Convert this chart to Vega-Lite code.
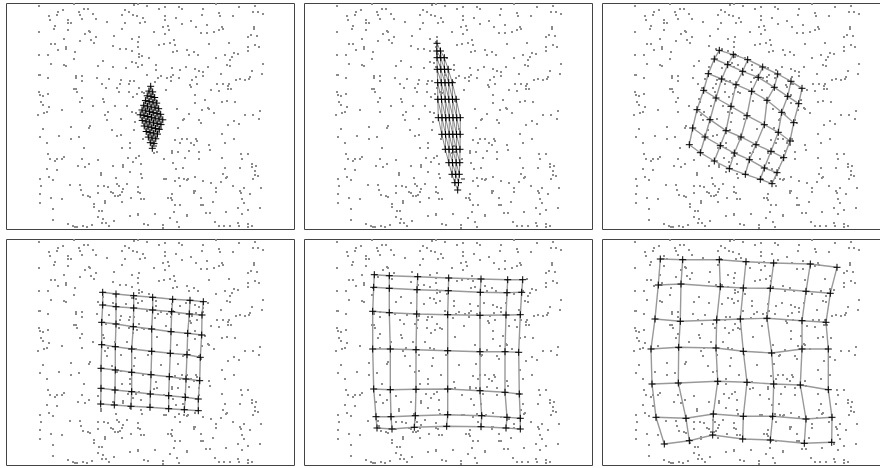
{
"$schema":"https://vega.github.io/schema/vega-lite/v6.json",
"padding":{"left":5,"top":2,"right":0,"bottom":0},
"bounds":"flush",
"config":{"view":{"stroke":"#444","strokeWidth":1}},
"resolve":{"scale":{"x":"independent","y":"independent"}},
"datasets":{
"dots":[
{"x":38,"y":5},{"x":73,"y":3},{"x":83,"y":8},{"x":87,"y":8},{"x":57,"y":11},{"x":62,"y":9},{"x":78,"y":11},{"x":79,"y":14},{"x":92,"y":13},{"x":48,"y":15},{"x":56,"y":14},{"x":49,"y":19},{"x":67,"y":19},{"x":67,"y":22},{"x":70,"y":22},{"x":81,"y":18},{"x":95,"y":18},{"x":106,"y":21},{"x":121,"y":14},{"x":124,"y":9},{"x":128,"y":11},{"x":132,"y":14},{"x":136,"y":15},{"x":133,"y":4},{"x":137,"y":3},{"x":146,"y":5},{"x":142,"y":17},{"x":139,"y":22},{"x":144,"y":21},{"x":124,"y":22},{"x":54,"y":25},{"x":53,"y":28},{"x":67,"y":29},{"x":38,"y":31},{"x":88,"y":30},{"x":89,"y":31},{"x":84,"y":33},{"x":121,"y":28},{"x":113,"y":35},{"x":95,"y":36},{"x":90,"y":39},{"x":63,"y":38},{"x":79,"y":40},{"x":93,"y":42},{"x":50,"y":43},{"x":54,"y":43},{"x":131,"y":38},{"x":138,"y":36},{"x":137,"y":41},{"x":137,"y":46},{"x":112,"y":45},{"x":119,"y":48},{"x":125,"y":48},{"x":131,"y":50},{"x":65,"y":46},{"x":65,"y":48},{"x":57,"y":49},{"x":74,"y":51},{"x":38,"y":54},{"x":47,"y":54},{"x":138,"y":53},{"x":138,"y":56},{"x":141,"y":55},{"x":148,"y":57},{"x":73,"y":58},{"x":102,"y":60},{"x":131,"y":61},{"x":135,"y":62},{"x":50,"y":63},{"x":63,"y":64},{"x":65,"y":65},{"x":97,"y":65},{"x":112,"y":66},{"x":125,"y":67},{"x":137,"y":66},{"x":141,"y":64},{"x":38,"y":74},{"x":39,"y":74},{"x":47,"y":77},{"x":75,"y":75},{"x":75,"y":77},{"x":81,"y":75},{"x":81,"y":80},{"x":96,"y":77},{"x":108,"y":78},{"x":120,"y":79},{"x":119,"y":83},{"x":129,"y":80},{"x":133,"y":80},{"x":128,"y":83},{"x":146,"y":74},{"x":101,"y":83},{"x":105,"y":87},{"x":116,"y":87},{"x":73,"y":88},{"x":75,"y":88},{"x":76,"y":91},{"x":38,"y":91},{"x":39,"y":94},{"x":42,"y":95},{"x":47,"y":93},{"x":118,"y":91},{"x":128,"y":91},{"x":136,"y":93},{"x":141,"y":91},{"x":138,"y":87},{"x":81,"y":97},{"x":132,"y":96},{"x":102,"y":98},{"x":103,"y":101},{"x":40,"y":101},{"x":42,"y":104},{"x":79,"y":101},{"x":48,"y":106},{"x":61,"y":109},{"x":92,"y":105},{"x":114,"y":105},{"x":126,"y":105},{"x":43,"y":112},{"x":46,"y":111},{"x":81,"y":111},{"x":107,"y":111},{"x":104,"y":114},{"x":37,"y":114},{"x":131,"y":111},{"x":135,"y":112},
{"x":158,"y":8},{"x":164,"y":6},{"x":178,"y":6},{"x":181,"y":8},{"x":202,"y":8},{"x":215,"y":3},{"x":218,"y":12},{"x":219,"y":15},{"x":238,"y":6},{"x":254,"y":5},{"x":252,"y":11},{"x":257,"y":11},{"x":262,"y":13},{"x":164,"y":15},{"x":164,"y":19},{"x":175,"y":17},{"x":190,"y":20},{"x":201,"y":14},{"x":232,"y":15},{"x":162,"y":26},{"x":167,"y":25},{"x":168,"y":29},{"x":181,"y":23},{"x":195,"y":26},{"x":206,"y":24},{"x":153,"y":31},{"x":164,"y":33},{"x":200,"y":32},{"x":206,"y":32},{"x":213,"y":31},{"x":218,"y":29},{"x":221,"y":26},{"x":222,"y":28},{"x":253,"y":26},{"x":253,"y":28},{"x":247,"y":36},{"x":250,"y":34},{"x":256,"y":35},{"x":158,"y":44},{"x":163,"y":43},{"x":169,"y":42},{"x":173,"y":39},{"x":174,"y":44},{"x":208,"y":43},{"x":228,"y":42},{"x":247,"y":46},{"x":247,"y":50},{"x":254,"y":44},{"x":258,"y":46},{"x":172,"y":51},{"x":176,"y":50},{"x":186,"y":49},{"x":193,"y":51},{"x":188,"y":54},{"x":197,"y":54},{"x":215,"y":57},{"x":224,"y":54},{"x":233,"y":52},{"x":237,"y":53},{"x":231,"y":56},{"x":229,"y":59},{"x":226,"y":64},{"x":229,"y":65},{"x":155,"y":64},{"x":155,"y":69},{"x":171,"y":67},{"x":179,"y":69},{"x":185,"y":66},{"x":194,"y":68},{"x":198,"y":70},{"x":207,"y":66},{"x":202,"y":71},{"x":202,"y":75},{"x":220,"y":73},{"x":251,"y":70},{"x":262,"y":63},{"x":261,"y":73},{"x":157,"y":77},{"x":160,"y":75},{"x":166,"y":77},{"x":170,"y":76},{"x":172,"y":74},{"x":178,"y":77},{"x":191,"y":79},{"x":189,"y":84},{"x":190,"y":86},{"x":195,"y":76},{"x":196,"y":83},{"x":154,"y":81},{"x":170,"y":80},{"x":235,"y":79},{"x":239,"y":78},{"x":244,"y":79},{"x":248,"y":78},{"x":249,"y":76},{"x":216,"y":83},{"x":222,"y":83},{"x":228,"y":83},{"x":227,"y":88},{"x":230,"y":88},{"x":227,"y":85},{"x":210,"y":89},{"x":218,"y":90},{"x":165,"y":89},{"x":194,"y":94},{"x":194,"y":102},{"x":204,"y":99},{"x":221,"y":101},{"x":226,"y":100},{"x":234,"y":101},{"x":207,"y":107},{"x":208,"y":108},{"x":201,"y":109},{"x":176,"y":108},{"x":188,"y":113},{"x":213,"y":112},{"x":244,"y":114},{"x":252,"y":114},{"x":259,"y":110},
{"x":106,"y":119},{"x":120,"y":118},{"x":134,"y":121},{"x":42,"y":128},{"x":70,"y":126},{"x":88,"y":127},{"x":89,"y":125},{"x":111,"y":129},{"x":133,"y":129},{"x":39,"y":136},{"x":58,"y":135},{"x":70,"y":138},{"x":78,"y":136},{"x":116,"y":135},{"x":120,"y":134},{"x":46,"y":142},{"x":129,"y":142},{"x":83,"y":147},{"x":121,"y":147},{"x":129,"y":147},{"x":47,"y":153},{"x":49,"y":158},{"x":54,"y":160},{"x":56,"y":158},{"x":61,"y":158},{"x":63,"y":156},{"x":81,"y":158},{"x":97,"y":159},{"x":127,"y":157},{"x":135,"y":157},{"x":138,"y":155},{"x":132,"y":161},{"x":140,"y":163},{"x":77,"y":165},{"x":84,"y":166},{"x":88,"y":163},{"x":122,"y":164},{"x":122,"y":166},{"x":112,"y":165},{"x":46,"y":168},{"x":56,"y":169},{"x":100,"y":172},{"x":100,"y":174},{"x":129,"y":171},{"x":140,"y":173},{"x":141,"y":177},{"x":48,"y":176},{"x":52,"y":179},{"x":39,"y":178},{"x":115,"y":177},{"x":40,"y":185},{"x":69,"y":184},{"x":79,"y":184},{"x":97,"y":185},{"x":103,"y":185},{"x":107,"y":186},{"x":116,"y":183},{"x":118,"y":185},{"x":122,"y":188},{"x":121,"y":191},{"x":119,"y":194},{"x":117,"y":195},{"x":126,"y":183},{"x":137,"y":186},{"x":137,"y":191},{"x":139,"y":192},{"x":80,"y":189},{"x":82,"y":194},{"x":87,"y":195},{"x":89,"y":196},{"x":97,"y":192},{"x":110,"y":191},{"x":112,"y":192},{"x":114,"y":195},{"x":39,"y":193},{"x":50,"y":197},{"x":61,"y":198},{"x":104,"y":200},{"x":104,"y":202},{"x":121,"y":201},{"x":130,"y":197},{"x":140,"y":198},{"x":143,"y":198},{"x":39,"y":202},{"x":93,"y":203},{"x":93,"y":206},{"x":52,"y":208},{"x":98,"y":210},{"x":101,"y":210},{"x":137,"y":213},{"x":137,"y":214},{"x":129,"y":215},{"x":97,"y":216},{"x":102,"y":218},{"x":52,"y":219},{"x":105,"y":222},{"x":101,"y":222},{"x":113,"y":220},{"x":67,"y":223},{"x":72,"y":225},{"x":74,"y":226},{"x":76,"y":226},{"x":82,"y":225},{"x":86,"y":226},{"x":91,"y":224},{"x":108,"y":225},{"x":143,"y":223},{"x":147,"y":224},
{"x":182,"y":119},{"x":183,"y":118},{"x":198,"y":119},{"x":200,"y":122},{"x":233,"y":120},{"x":227,"y":124},{"x":238,"y":123},{"x":258,"y":118},{"x":177,"y":127},{"x":221,"y":133},{"x":174,"y":139},{"x":181,"y":138},{"x":186,"y":138},{"x":179,"y":142},{"x":190,"y":142},{"x":193,"y":144},{"x":195,"y":138},{"x":196,"y":140},{"x":208,"y":144},{"x":224,"y":142},{"x":233,"y":138},{"x":156,"y":151},{"x":153,"y":152},{"x":171,"y":150},{"x":171,"y":152},{"x":177,"y":151},{"x":188,"y":150},{"x":198,"y":151},{"x":209,"y":149},{"x":240,"y":153},{"x":247,"y":153},{"x":163,"y":158},{"x":184,"y":157},{"x":198,"y":158},{"x":221,"y":157},{"x":241,"y":158},{"x":172,"y":162},{"x":251,"y":163},{"x":251,"y":166},{"x":255,"y":165},{"x":182,"y":167},{"x":175,"y":168},{"x":224,"y":167},{"x":239,"y":167},{"x":254,"y":170},{"x":222,"y":173},{"x":226,"y":176},{"x":225,"y":177},{"x":254,"y":174},{"x":257,"y":175},{"x":163,"y":178},{"x":165,"y":178},{"x":178,"y":177},{"x":183,"y":178},{"x":186,"y":179},{"x":187,"y":178},{"x":194,"y":176},{"x":252,"y":178},{"x":174,"y":180},{"x":202,"y":180},{"x":210,"y":182},{"x":220,"y":181},{"x":179,"y":185},{"x":232,"y":185},{"x":215,"y":187},{"x":243,"y":187},{"x":260,"y":187},{"x":193,"y":190},{"x":194,"y":190},{"x":193,"y":192},{"x":215,"y":191},{"x":239,"y":190},{"x":240,"y":192},{"x":249,"y":193},{"x":171,"y":193},{"x":167,"y":197},{"x":170,"y":197},{"x":171,"y":199},{"x":200,"y":197},{"x":241,"y":198},{"x":212,"y":201},{"x":200,"y":204},{"x":202,"y":204},{"x":174,"y":204},{"x":179,"y":204},{"x":243,"y":202},{"x":237,"y":207},{"x":259,"y":207},{"x":173,"y":211},{"x":186,"y":214},{"x":186,"y":215},{"x":205,"y":212},{"x":209,"y":212},{"x":225,"y":211},{"x":241,"y":213},{"x":247,"y":209},{"x":154,"y":213},{"x":169,"y":217},{"x":176,"y":221},{"x":214,"y":221},{"x":162,"y":224},{"x":162,"y":227},{"x":178,"y":226},{"x":218,"y":225},{"x":223,"y":225},{"x":229,"y":225},{"x":237,"y":222},{"x":238,"y":225},{"x":247,"y":223},{"x":247,"y":226},{"x":251,"y":225},
{"x":143,"y":92},{"x":156,"y":100},{"x":147,"y":118},{"x":160,"y":128},{"x":142,"y":138},{"x":155,"y":145}
],
"grid":[
{"p":1,"i":0,"j":0,"x":149.7,"y":85.3},{"p":1,"i":0,"j":1,"x":151.7,"y":90.9},{"p":1,"i":0,"j":2,"x":153.7,"y":96.5},{"p":1,"i":0,"j":3,"x":155.7,"y":102.1},{"p":1,"i":0,"j":4,"x":157.7,"y":107.7},{"p":1,"i":0,"j":5,"x":159.7,"y":113.3},{"p":1,"i":0,"j":6,"x":161.8,"y":118.8},
{"p":1,"i":1,"j":0,"x":147.9,"y":90.1},{"p":1,"i":1,"j":1,"x":150.0,"y":95.6},{"p":1,"i":1,"j":2,"x":152.0,"y":101.2},{"p":1,"i":1,"j":3,"x":154.0,"y":106.8},{"p":1,"i":1,"j":4,"x":156.0,"y":112.4},{"p":1,"i":1,"j":5,"x":158.0,"y":118.0},{"p":1,"i":1,"j":6,"x":160.0,"y":123.6},
{"p":1,"i":2,"j":0,"x":146.2,"y":94.8},{"p":1,"i":2,"j":1,"x":148.2,"y":100.4},{"p":1,"i":2,"j":2,"x":150.2,"y":106.0},{"p":1,"i":2,"j":3,"x":152.2,"y":111.6},{"p":1,"i":2,"j":4,"x":154.2,"y":117.2},{"p":1,"i":2,"j":5,"x":156.2,"y":122.7},{"p":1,"i":2,"j":6,"x":158.3,"y":128.3},
{"p":1,"i":3,"j":0,"x":144.4,"y":99.6},{"p":1,"i":3,"j":1,"x":146.5,"y":105.2},{"p":1,"i":3,"j":2,"x":148.5,"y":110.7},{"p":1,"i":3,"j":3,"x":150.5,"y":116.3},{"p":1,"i":3,"j":4,"x":152.5,"y":121.9},{"p":1,"i":3,"j":5,"x":154.5,"y":127.5},{"p":1,"i":3,"j":6,"x":156.5,"y":133.1},
{"p":1,"i":4,"j":0,"x":142.7,"y":104.3},{"p":1,"i":4,"j":1,"x":144.7,"y":109.9},{"p":1,"i":4,"j":2,"x":146.7,"y":115.5},{"p":1,"i":4,"j":3,"x":148.7,"y":121.1},{"p":1,"i":4,"j":4,"x":150.7,"y":126.7},{"p":1,"i":4,"j":5,"x":152.7,"y":132.2},{"p":1,"i":4,"j":6,"x":154.8,"y":137.8},
{"p":1,"i":5,"j":0,"x":141.0,"y":109.0},{"p":1,"i":5,"j":1,"x":143.0,"y":114.6},{"p":1,"i":5,"j":2,"x":145.0,"y":120.2},{"p":1,"i":5,"j":3,"x":147.0,"y":125.8},{"p":1,"i":5,"j":4,"x":149.0,"y":131.4},{"p":1,"i":5,"j":5,"x":151.0,"y":137.0},{"p":1,"i":5,"j":6,"x":153.0,"y":142.6},
{"p":1,"i":6,"j":0,"x":139.2,"y":113.8},{"p":1,"i":6,"j":1,"x":141.2,"y":119.4},{"p":1,"i":6,"j":2,"x":143.2,"y":125.0},{"p":1,"i":6,"j":3,"x":145.2,"y":130.5},{"p":1,"i":6,"j":4,"x":147.3,"y":136.1},{"p":1,"i":6,"j":5,"x":149.3,"y":141.7},{"p":1,"i":6,"j":6,"x":151.3,"y":147.3},
{"p":2,"i":0,"j":0,"x":138.0,"y":42.3},{"p":2,"i":0,"j":1,"x":141.5,"y":50.0},{"p":2,"i":0,"j":2,"x":145.3,"y":56.7},{"p":2,"i":0,"j":3,"x":149.2,"y":68.3},{"p":2,"i":0,"j":4,"x":153.3,"y":81.7},{"p":2,"i":0,"j":5,"x":157.2,"y":98.3},{"p":2,"i":0,"j":6,"x":161.3,"y":116.7},
{"p":2,"i":1,"j":0,"x":137.8,"y":50.0},{"p":2,"i":1,"j":1,"x":141.7,"y":56.7},{"p":2,"i":1,"j":2,"x":145.5,"y":68.3},{"p":2,"i":1,"j":3,"x":149.7,"y":81.7},{"p":2,"i":1,"j":4,"x":153.5,"y":98.3},{"p":2,"i":1,"j":5,"x":157.7,"y":116.7},{"p":2,"i":1,"j":6,"x":161.2,"y":133.3},
{"p":2,"i":2,"j":0,"x":138.0,"y":56.7},{"p":2,"i":2,"j":1,"x":141.8,"y":68.3},{"p":2,"i":2,"j":2,"x":146.0,"y":81.7},{"p":2,"i":2,"j":3,"x":149.8,"y":98.3},{"p":2,"i":2,"j":4,"x":154.0,"y":116.7},{"p":2,"i":2,"j":5,"x":157.5,"y":133.3},{"p":2,"i":2,"j":6,"x":161.0,"y":148.3},
{"p":2,"i":3,"j":0,"x":138.2,"y":68.3},{"p":2,"i":3,"j":1,"x":142.3,"y":81.7},{"p":2,"i":3,"j":2,"x":146.2,"y":98.3},{"p":2,"i":3,"j":3,"x":150.3,"y":116.7},{"p":2,"i":3,"j":4,"x":153.8,"y":133.3},{"p":2,"i":3,"j":5,"x":157.3,"y":148.3},{"p":2,"i":3,"j":6,"x":160.8,"y":161.7},
{"p":2,"i":4,"j":0,"x":138.7,"y":81.7},{"p":2,"i":4,"j":1,"x":142.5,"y":98.3},{"p":2,"i":4,"j":2,"x":146.7,"y":116.7},{"p":2,"i":4,"j":3,"x":150.2,"y":133.3},{"p":2,"i":4,"j":4,"x":153.7,"y":148.3},{"p":2,"i":4,"j":5,"x":157.2,"y":161.7},{"p":2,"i":4,"j":6,"x":160.3,"y":173.3},
{"p":2,"i":5,"j":0,"x":138.8,"y":98.3},{"p":2,"i":5,"j":1,"x":143.0,"y":116.7},{"p":2,"i":5,"j":2,"x":146.5,"y":133.3},{"p":2,"i":5,"j":3,"x":150.0,"y":148.3},{"p":2,"i":5,"j":4,"x":153.5,"y":161.7},{"p":2,"i":5,"j":5,"x":156.7,"y":173.3},{"p":2,"i":5,"j":6,"x":159.5,"y":181.7},
{"p":2,"i":6,"j":0,"x":139.3,"y":116.7},{"p":2,"i":6,"j":1,"x":142.8,"y":133.3},{"p":2,"i":6,"j":2,"x":146.3,"y":148.3},{"p":2,"i":6,"j":3,"x":149.8,"y":161.7},{"p":2,"i":6,"j":4,"x":153.0,"y":173.3},{"p":2,"i":6,"j":5,"x":155.8,"y":181.7},{"p":2,"i":6,"j":6,"x":158.7,"y":189.0},
{"p":3,"i":0,"j":0,"x":122.3,"y":49.3},{"p":3,"i":0,"j":1,"x":136.3,"y":53.7},{"p":3,"i":0,"j":2,"x":150.7,"y":58.7},{"p":3,"i":0,"j":3,"x":165.7,"y":66.0},{"p":3,"i":0,"j":4,"x":180.7,"y":73.0},{"p":3,"i":0,"j":5,"x":194.0,"y":80.3},{"p":3,"i":0,"j":6,"x":205.0,"y":87.3},
{"p":3,"i":1,"j":0,"x":117.3,"y":58.0},{"p":3,"i":1,"j":1,"x":130.7,"y":63.7},{"p":3,"i":1,"j":2,"x":145.7,"y":70.3},{"p":3,"i":1,"j":3,"x":161.3,"y":76.3},{"p":3,"i":1,"j":4,"x":177.3,"y":86.3},{"p":3,"i":1,"j":5,"x":190.7,"y":95.3},{"p":3,"i":1,"j":6,"x":201.7,"y":102.7},
{"p":3,"i":2,"j":0,"x":111.3,"y":72.7},{"p":3,"i":2,"j":1,"x":124.7,"y":78.0},{"p":3,"i":2,"j":2,"x":139.0,"y":83.7},{"p":3,"i":2,"j":3,"x":154.7,"y":90.3},{"p":3,"i":2,"j":4,"x":170.0,"y":99.3},{"p":3,"i":2,"j":5,"x":184.7,"y":111.3},{"p":3,"i":2,"j":6,"x":196.7,"y":121.7},
{"p":3,"i":3,"j":0,"x":106.7,"y":89.3},{"p":3,"i":3,"j":1,"x":119.0,"y":97.0},{"p":3,"i":3,"j":2,"x":134.0,"y":105.3},{"p":3,"i":3,"j":3,"x":150.0,"y":114.7},{"p":3,"i":3,"j":4,"x":167.3,"y":123.7},{"p":3,"i":3,"j":5,"x":181.3,"y":131.3},{"p":3,"i":3,"j":6,"x":193.0,"y":140.0},
{"p":3,"i":4,"j":0,"x":100.0,"y":108.7},{"p":3,"i":4,"j":1,"x":113.0,"y":118.7},{"p":3,"i":4,"j":2,"x":129.0,"y":129.7},{"p":3,"i":4,"j":3,"x":144.0,"y":136.0},{"p":3,"i":4,"j":4,"x":159.0,"y":143.7},{"p":3,"i":4,"j":5,"x":174.0,"y":150.3},{"p":3,"i":4,"j":6,"x":186.7,"y":156.7},
{"p":3,"i":5,"j":0,"x":95.7,"y":127.0},{"p":3,"i":5,"j":1,"x":108.0,"y":136.0},{"p":3,"i":5,"j":2,"x":123.3,"y":144.7},{"p":3,"i":5,"j":3,"x":137.3,"y":152.0},{"p":3,"i":5,"j":4,"x":152.3,"y":158.7},{"p":3,"i":5,"j":5,"x":167.3,"y":167.0},{"p":3,"i":5,"j":6,"x":180.0,"y":171.7},
{"p":3,"i":6,"j":0,"x":92.3,"y":143.7},{"p":3,"i":6,"j":1,"x":103.3,"y":151.7},{"p":3,"i":6,"j":2,"x":117.3,"y":160.0},{"p":3,"i":6,"j":3,"x":132.3,"y":167.7},{"p":3,"i":6,"j":4,"x":148.3,"y":173.3},{"p":3,"i":6,"j":5,"x":163.3,"y":178.3},{"p":3,"i":6,"j":6,"x":175.0,"y":182.7},
{"p":4,"i":0,"j":0,"x":101.7,"y":55.3},{"p":4,"i":0,"j":1,"x":115.0,"y":57.0},{"p":4,"i":0,"j":2,"x":132.7,"y":58.7},{"p":4,"i":0,"j":3,"x":151.7,"y":60.3},{"p":4,"i":0,"j":4,"x":171.7,"y":62.3},{"p":4,"i":0,"j":5,"x":189.0,"y":63.3},{"p":4,"i":0,"j":6,"x":202.3,"y":64.7},
{"p":4,"i":1,"j":0,"x":101.7,"y":68.0},{"p":4,"i":1,"j":1,"x":115.0,"y":69.7},{"p":4,"i":1,"j":2,"x":132.7,"y":71.0},{"p":4,"i":1,"j":3,"x":151.7,"y":73.0},{"p":4,"i":1,"j":4,"x":170.7,"y":74.7},{"p":4,"i":1,"j":5,"x":188.3,"y":77.0},{"p":4,"i":1,"j":6,"x":201.0,"y":78.0},
{"p":4,"i":2,"j":0,"x":100.7,"y":85.3},{"p":4,"i":2,"j":1,"x":115.0,"y":87.0},{"p":4,"i":2,"j":2,"x":132.3,"y":89.7},{"p":4,"i":2,"j":3,"x":150.7,"y":92.0},{"p":4,"i":2,"j":4,"x":170.0,"y":94.7},{"p":4,"i":2,"j":5,"x":186.7,"y":96.3},{"p":4,"i":2,"j":6,"x":200.7,"y":98.0},
{"p":4,"i":3,"j":0,"x":100.7,"y":107.7},{"p":4,"i":3,"j":1,"x":114.3,"y":109.7},{"p":4,"i":3,"j":2,"x":130.7,"y":112.0},{"p":4,"i":3,"j":3,"x":150.7,"y":114.3},{"p":4,"i":3,"j":4,"x":169.3,"y":116.3},{"p":4,"i":3,"j":5,"x":186.0,"y":117.7},{"p":4,"i":3,"j":6,"x":199.3,"y":120.3},
{"p":4,"i":4,"j":0,"x":100.0,"y":131.3},{"p":4,"i":4,"j":1,"x":114.3,"y":133.0},{"p":4,"i":4,"j":2,"x":130.7,"y":135.3},{"p":4,"i":4,"j":3,"x":150.0,"y":137.7},{"p":4,"i":4,"j":4,"x":168.3,"y":139.7},{"p":4,"i":4,"j":5,"x":185.0,"y":142.0},{"p":4,"i":4,"j":6,"x":198.7,"y":143.7},
{"p":4,"i":5,"j":0,"x":100.0,"y":151.3},{"p":4,"i":5,"j":1,"x":114.0,"y":153.0},{"p":4,"i":5,"j":2,"x":130.7,"y":154.7},{"p":4,"i":5,"j":3,"x":149.3,"y":157.0},{"p":4,"i":5,"j":4,"x":167.7,"y":158.7},{"p":4,"i":5,"j":5,"x":184.3,"y":160.3},{"p":4,"i":5,"j":6,"x":197.3,"y":162.0},
{"p":4,"i":6,"j":0,"x":99.7,"y":167.0},{"p":4,"i":6,"j":1,"x":113.3,"y":168.0},{"p":4,"i":6,"j":2,"x":130.0,"y":169.3},{"p":4,"i":6,"j":3,"x":149.0,"y":170.3},{"p":4,"i":6,"j":4,"x":167.7,"y":171.7},{"p":4,"i":6,"j":5,"x":183.3,"y":172.7},{"p":4,"i":6,"j":6,"x":197.3,"y":173.7},
{"p":5,"i":0,"j":0,"x":75.3,"y":37.7},{"p":5,"i":0,"j":1,"x":90.3,"y":38.7},{"p":5,"i":0,"j":2,"x":118.7,"y":39.7},{"p":5,"i":0,"j":3,"x":149.7,"y":41.0},{"p":5,"i":0,"j":4,"x":182.0,"y":42.0},{"p":5,"i":0,"j":5,"x":208.7,"y":42.7},{"p":5,"i":0,"j":6,"x":223.7,"y":42.7},
{"p":5,"i":1,"j":0,"x":74.7,"y":50.3},{"p":5,"i":1,"j":1,"x":90.3,"y":51.3},{"p":5,"i":1,"j":2,"x":118.0,"y":52.7},{"p":5,"i":1,"j":3,"x":149.3,"y":53.7},{"p":5,"i":1,"j":4,"x":181.3,"y":55.3},{"p":5,"i":1,"j":5,"x":208.0,"y":55.7},{"p":5,"i":1,"j":6,"x":222.7,"y":55.3},
{"p":5,"i":2,"j":0,"x":73.7,"y":74.3},{"p":5,"i":2,"j":1,"x":90.3,"y":75.7},{"p":5,"i":2,"j":2,"x":117.7,"y":77.0},{"p":5,"i":2,"j":3,"x":148.7,"y":77.7},{"p":5,"i":2,"j":4,"x":181.0,"y":78.3},{"p":5,"i":2,"j":5,"x":207.0,"y":78.0},{"p":5,"i":2,"j":6,"x":221.3,"y":77.7},
{"p":5,"i":3,"j":0,"x":73.7,"y":112.0},{"p":5,"i":3,"j":1,"x":91.3,"y":112.0},{"p":5,"i":3,"j":2,"x":117.0,"y":112.7},{"p":5,"i":3,"j":3,"x":148.7,"y":113.7},{"p":5,"i":3,"j":4,"x":181.0,"y":114.7},{"p":5,"i":3,"j":5,"x":206.0,"y":114.7},{"p":5,"i":3,"j":6,"x":219.7,"y":115.3},
{"p":5,"i":4,"j":0,"x":74.7,"y":152.0},{"p":5,"i":4,"j":1,"x":91.3,"y":152.7},{"p":5,"i":4,"j":2,"x":117.0,"y":152.3},{"p":5,"i":4,"j":3,"x":148.7,"y":152.0},{"p":5,"i":4,"j":4,"x":181.0,"y":153.7},{"p":5,"i":4,"j":5,"x":206.0,"y":155.3},{"p":5,"i":4,"j":6,"x":220.3,"y":157.0},
{"p":5,"i":5,"j":0,"x":77.0,"y":179.7},{"p":5,"i":5,"j":1,"x":92.0,"y":179.7},{"p":5,"i":5,"j":2,"x":116.3,"y":178.7},{"p":5,"i":5,"j":3,"x":148.7,"y":177.7},{"p":5,"i":5,"j":4,"x":182.7,"y":178.7},{"p":5,"i":5,"j":5,"x":208.0,"y":180.3},{"p":5,"i":5,"j":6,"x":221.3,"y":181.3},
{"p":5,"i":6,"j":0,"x":78.0,"y":191.0},{"p":5,"i":6,"j":1,"x":93.0,"y":192.0},{"p":5,"i":6,"j":2,"x":115.3,"y":190.3},{"p":5,"i":6,"j":3,"x":147.7,"y":189.3},{"p":5,"i":6,"j":4,"x":182.0,"y":189.7},{"p":5,"i":6,"j":5,"x":207.0,"y":191.0},{"p":5,"i":6,"j":6,"x":221.3,"y":192.0},
{"p":6,"i":0,"j":0,"x":63.3,"y":22.0},{"p":6,"i":0,"j":1,"x":85.7,"y":22.7},{"p":6,"i":0,"j":2,"x":122.3,"y":22.7},{"p":6,"i":0,"j":3,"x":149.0,"y":24.7},{"p":6,"i":0,"j":4,"x":176.7,"y":26.0},{"p":6,"i":0,"j":5,"x":213.3,"y":27.0},{"p":6,"i":0,"j":6,"x":240.0,"y":30.3},
{"p":6,"i":1,"j":0,"x":61.3,"y":48.0},{"p":6,"i":1,"j":1,"x":84.0,"y":47.0},{"p":6,"i":1,"j":2,"x":123.3,"y":49.7},{"p":6,"i":1,"j":3,"x":146.3,"y":51.0},{"p":6,"i":1,"j":4,"x":173.3,"y":51.3},{"p":6,"i":1,"j":5,"x":209.0,"y":54.3},{"p":6,"i":1,"j":6,"x":233.3,"y":56.3},
{"p":6,"i":2,"j":0,"x":58.0,"y":82.0},{"p":6,"i":2,"j":1,"x":83.3,"y":84.3},{"p":6,"i":2,"j":2,"x":119.7,"y":83.0},{"p":6,"i":2,"j":3,"x":143.3,"y":82.0},{"p":6,"i":2,"j":4,"x":170.0,"y":81.3},{"p":6,"i":2,"j":5,"x":205.0,"y":83.7},{"p":6,"i":2,"j":6,"x":229.0,"y":85.3},
{"p":6,"i":3,"j":0,"x":54.0,"y":112.0},{"p":6,"i":3,"j":1,"x":81.7,"y":110.3},{"p":6,"i":3,"j":2,"x":119.0,"y":111.0},{"p":6,"i":3,"j":3,"x":146.3,"y":114.3},{"p":6,"i":3,"j":4,"x":174.7,"y":116.0},{"p":6,"i":3,"j":5,"x":205.0,"y":112.0},{"p":6,"i":3,"j":6,"x":231.3,"y":112.0},
{"p":6,"i":4,"j":0,"x":55.0,"y":147.0},{"p":6,"i":4,"j":1,"x":81.3,"y":146.0},{"p":6,"i":4,"j":2,"x":120.7,"y":144.3},{"p":6,"i":4,"j":3,"x":150.0,"y":145.3},{"p":6,"i":4,"j":4,"x":176.7,"y":147.0},{"p":6,"i":4,"j":5,"x":203.3,"y":148.0},{"p":6,"i":4,"j":6,"x":231.3,"y":152.7},
{"p":6,"i":5,"j":0,"x":59.0,"y":180.3},{"p":6,"i":5,"j":1,"x":89.0,"y":181.3},{"p":6,"i":5,"j":2,"x":116.3,"y":177.0},{"p":6,"i":5,"j":3,"x":146.3,"y":179.3},{"p":6,"i":5,"j":4,"x":175.7,"y":179.3},{"p":6,"i":5,"j":5,"x":209.0,"y":182.0},{"p":6,"i":5,"j":6,"x":235.0,"y":180.3},
{"p":6,"i":6,"j":0,"x":67.3,"y":207.0},{"p":6,"i":6,"j":1,"x":92.3,"y":203.7},{"p":6,"i":6,"j":2,"x":115.7,"y":198.0},{"p":6,"i":6,"j":3,"x":145.7,"y":202.0},{"p":6,"i":6,"j":4,"x":173.3,"y":203.0},{"p":6,"i":6,"j":5,"x":207.3,"y":206.3},{"p":6,"i":6,"j":6,"x":234.7,"y":205.3}
]
},
"columns":3,
"spacing":10,
"concat":[
{"width":288,"height":226,
"encoding":{"x":{"field":"x","type":"quantitative","scale":{"domain":[5,293],"nice":false,"zero":false},"axis":null},"y":{"field":"y","type":"quantitative","scale":{"domain":[2,228],"nice":false,"zero":false,"reverse":true},"axis":null}},
"layer":[
{"data":{"name":"dots"},"mark":{"type":"point","shape":"square","filled":true,"size":4,"color":"#8c8c8c","opacity":1,"clip":true}},
{"data":{"name":"grid"},"transform":[{"filter":"datum.p==1"}],"mark":{"type":"line","color":"#777","strokeWidth":1,"clip":true},"encoding":{"detail":{"field":"i","type":"nominal"},"order":{"field":"j","type":"quantitative"}}},
{"data":{"name":"grid"},"transform":[{"filter":"datum.p==1"}],"mark":{"type":"line","color":"#777","strokeWidth":1,"clip":true},"encoding":{"detail":{"field":"j","type":"nominal"},"order":{"field":"i","type":"quantitative"}}},
{"data":{"name":"grid"},"transform":[{"filter":"datum.p==1"}],"mark":{"type":"point","shape":"M-1,0L1,0M0,-1L0,1","filled":false,"size":49,"color":"#000","strokeWidth":1,"opacity":1,"clip":true}}
]},
{"width":288,"height":226,
"encoding":{"x":{"field":"x","type":"quantitative","scale":{"domain":[5,293],"nice":false,"zero":false},"axis":null},"y":{"field":"y","type":"quantitative","scale":{"domain":[2,228],"nice":false,"zero":false,"reverse":true},"axis":null}},
"layer":[
{"data":{"name":"dots"},"mark":{"type":"point","shape":"square","filled":true,"size":4,"color":"#8c8c8c","opacity":1,"clip":true}},
{"data":{"name":"grid"},"transform":[{"filter":"datum.p==2"}],"mark":{"type":"line","color":"#888","strokeWidth":1,"clip":true},"encoding":{"detail":{"field":"i","type":"nominal"},"order":{"field":"j","type":"quantitative"}}},
{"data":{"name":"grid"},"transform":[{"filter":"datum.p==2"}],"mark":{"type":"line","color":"#888","strokeWidth":1,"clip":true},"encoding":{"detail":{"field":"j","type":"nominal"},"order":{"field":"i","type":"quantitative"}}},
{"data":{"name":"grid"},"transform":[{"filter":"datum.p==2"}],"mark":{"type":"point","shape":"M-1,0L1,0M0,-1L0,1","filled":false,"size":49,"color":"#000","strokeWidth":1,"opacity":1,"clip":true}}
]},
{"width":279,"height":226,
"encoding":{"x":{"field":"x","type":"quantitative","scale":{"domain":[5,284],"nice":false,"zero":false},"axis":null},"y":{"field":"y","type":"quantitative","scale":{"domain":[2,228],"nice":false,"zero":false,"reverse":true},"axis":null}},
"layer":[
{"data":{"name":"dots"},"mark":{"type":"point","shape":"square","filled":true,"size":4,"color":"#8c8c8c","opacity":1,"clip":true}},
{"data":{"name":"grid"},"transform":[{"filter":"datum.p==3"}],"mark":{"type":"line","color":"#999","strokeWidth":1.4,"clip":true},"encoding":{"detail":{"field":"i","type":"nominal"},"order":{"field":"j","type":"quantitative"}}},
{"data":{"name":"grid"},"transform":[{"filter":"datum.p==3"}],"mark":{"type":"line","color":"#999","strokeWidth":1.4,"clip":true},"encoding":{"detail":{"field":"j","type":"nominal"},"order":{"field":"i","type":"quantitative"}}},
{"data":{"name":"grid"},"transform":[{"filter":"datum.p==3"}],"mark":{"type":"point","shape":"M-1,0L1,0M0,-1L0,1","filled":false,"size":49,"color":"#000","strokeWidth":1,"opacity":1,"clip":true}}
]},
{"width":288,"height":226,
"encoding":{"x":{"field":"x","type":"quantitative","scale":{"domain":[5,293],"nice":false,"zero":false},"axis":null},"y":{"field":"y","type":"quantitative","scale":{"domain":[2,228],"nice":false,"zero":false,"reverse":true},"axis":null}},
"layer":[
{"data":{"name":"dots"},"mark":{"type":"point","shape":"square","filled":true,"size":4,"color":"#8c8c8c","opacity":1,"clip":true}},
{"data":{"name":"grid"},"transform":[{"filter":"datum.p==4"}],"mark":{"type":"line","color":"#999","strokeWidth":1.4,"clip":true},"encoding":{"detail":{"field":"i","type":"nominal"},"order":{"field":"j","type":"quantitative"}}},
{"data":{"name":"grid"},"transform":[{"filter":"datum.p==4"}],"mark":{"type":"line","color":"#999","strokeWidth":1.4,"clip":true},"encoding":{"detail":{"field":"j","type":"nominal"},"order":{"field":"i","type":"quantitative"}}},
{"data":{"name":"grid"},"transform":[{"filter":"datum.p==4"}],"mark":{"type":"point","shape":"M-1,0L1,0M0,-1L0,1","filled":false,"size":49,"color":"#000","strokeWidth":1,"opacity":1,"clip":true}}
]},
{"width":288,"height":226,
"encoding":{"x":{"field":"x","type":"quantitative","scale":{"domain":[5,293],"nice":false,"zero":false},"axis":null},"y":{"field":"y","type":"quantitative","scale":{"domain":[2,228],"nice":false,"zero":false,"reverse":true},"axis":null}},
"layer":[
{"data":{"name":"dots"},"mark":{"type":"point","shape":"square","filled":true,"size":4,"color":"#8c8c8c","opacity":1,"clip":true}},
{"data":{"name":"grid"},"transform":[{"filter":"datum.p==5"}],"mark":{"type":"line","color":"#999","strokeWidth":1.4,"clip":true},"encoding":{"detail":{"field":"i","type":"nominal"},"order":{"field":"j","type":"quantitative"}}},
{"data":{"name":"grid"},"transform":[{"filter":"datum.p==5"}],"mark":{"type":"line","color":"#999","strokeWidth":1.4,"clip":true},"encoding":{"detail":{"field":"j","type":"nominal"},"order":{"field":"i","type":"quantitative"}}},
{"data":{"name":"grid"},"transform":[{"filter":"datum.p==5"}],"mark":{"type":"point","shape":"M-1,0L1,0M0,-1L0,1","filled":false,"size":49,"color":"#000","strokeWidth":1,"opacity":1,"clip":true}}
]},
{"width":279,"height":226,
"encoding":{"x":{"field":"x","type":"quantitative","scale":{"domain":[5,284],"nice":false,"zero":false},"axis":null},"y":{"field":"y","type":"quantitative","scale":{"domain":[2,228],"nice":false,"zero":false,"reverse":true},"axis":null}},
"layer":[
{"data":{"name":"dots"},"mark":{"type":"point","shape":"square","filled":true,"size":4,"color":"#8c8c8c","opacity":1,"clip":true}},
{"data":{"name":"grid"},"transform":[{"filter":"datum.p==6"}],"mark":{"type":"line","color":"#999","strokeWidth":1.4,"clip":true},"encoding":{"detail":{"field":"i","type":"nominal"},"order":{"field":"j","type":"quantitative"}}},
{"data":{"name":"grid"},"transform":[{"filter":"datum.p==6"}],"mark":{"type":"line","color":"#999","strokeWidth":1.4,"clip":true},"encoding":{"detail":{"field":"j","type":"nominal"},"order":{"field":"i","type":"quantitative"}}},
{"data":{"name":"grid"},"transform":[{"filter":"datum.p==6"}],"mark":{"type":"point","shape":"M-1,0L1,0M0,-1L0,1","filled":false,"size":49,"color":"#000","strokeWidth":1,"opacity":1,"clip":true}}
]}
]
}
